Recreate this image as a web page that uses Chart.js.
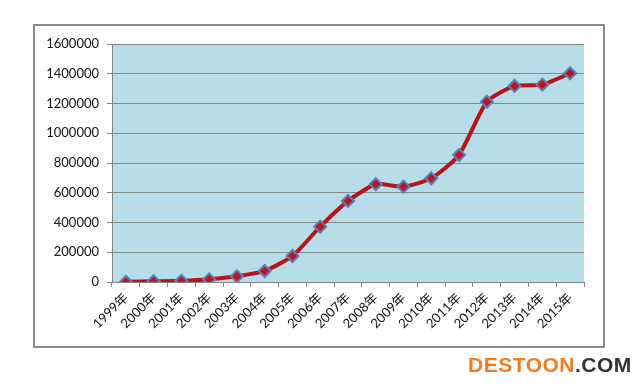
<!DOCTYPE html>
<html>
<head>
<meta charset="utf-8">
<script src="https://cdn.jsdelivr.net/npm/chart.js@4"></script>
<style>
  body { margin: 0; background: #fff; }
  #wrap { position: relative; width: 640px; height: 390px; }
  #mark {
    position: absolute; left: 468px; top: 353px;
    font-family: "Liberation Sans", sans-serif; font-weight: bold; font-size: 21px;
    letter-spacing: 0.5px; color: #333; white-space: nowrap;
  }
  #mark span { color: #f47b20; }
</style>
</head>
<body>
<div id="wrap">
  <canvas id="lineChart" width="640" height="390"></canvas>
  <div id="mark"><span>DESTOON</span>.COM</div>
</div>
<script>
// data
const years = ['1999年', '2000年', '2001年', '2002年', '2003年', '2004年', '2005年', '2006年',
    '2007年', '2008年', '2009年', '2010年', '2011年', '2012年', '2013年', '2014年', '2015年'];
const values = [1000, 5000, 8000, 18000, 38000, 74000, 175000, 372000,
    545000, 657000, 641000, 697000, 854000, 1212000, 1318000, 1327000, 1403000];
const yTicks = [0, 200000, 400000, 600000, 800000, 1000000, 1200000, 1400000, 1600000];

const frame = {
    id: 'frame',
    beforeDraw(chart) {
        const c = chart.ctx;
        const a = chart.chartArea;
        c.save();
        c.fillStyle = '#fff';
        c.fillRect(0, 0, chart.width, chart.height);
        // outer box
        c.strokeStyle = '#8a8a8a';
        c.lineWidth = 2;
        c.strokeRect(34, 25, 570, 322);
        // plot area
        c.fillStyle = '#b7dde8';
        c.fillRect(a.left, a.top, a.right - a.left, a.bottom - a.top);
        c.restore();
    }
};

document.addEventListener('DOMContentLoaded', function() {
    Chart.defaults.font.family = "Lato, 'Noto Sans CJK SC', sans-serif";
    Chart.defaults.font.size = 13;
    Chart.defaults.color = '#111';

    new Chart(document.getElementById('lineChart'), {
        type: 'line',
        data: {
            labels: years,
            datasets: [{
                data: values,
                borderColor: '#b8121b',
                borderWidth: 4,
                tension: 0.2,
                pointStyle: 'rectRot',
                pointRadius: 6,
                pointBackgroundColor: '#c0141c',
                pointBorderColor: '#5b7fb8',
                pointBorderWidth: 2
            }]
        },
        options: {
            responsive: false,
            animation: false,
            layout: { padding: { top: 44, right: 56, bottom: 0, left: 0 } },
            plugins: { legend: { display: false }, tooltip: { enabled: false } },
            scales: {
                x: {
                    offset: true,
                    grid: { offset: true, drawOnChartArea: false, color: '#868686', tickLength: 5 },
                    border: { color: '#868686' },
                    ticks: { minRotation: 45, maxRotation: 45, autoSkip: false, padding: 3 },
                    afterFit(scale) { scale.height = 108; }
                },
                y: {
                    min: 0,
                    max: 1600000,
                    grid: { color: '#868686', tickLength: 5 },
                    border: { color: '#868686' },
                    afterBuildTicks(scale) { scale.ticks = yTicks.map(v => ({ value: v })); },
                    ticks: { padding: 8, callback: v => String(v) },
                    afterFit(scale) { scale.width = 112; }
                }
            }
        },
        plugins: [frame]
    });
});
</script>
</body>
</html>
